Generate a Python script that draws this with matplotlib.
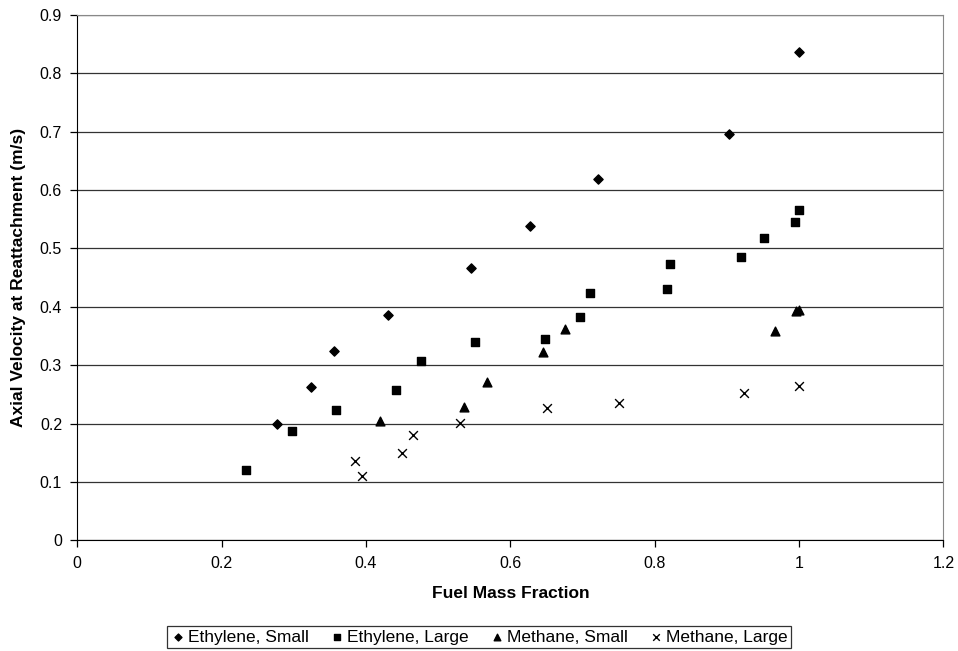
import matplotlib.pyplot as plt

plt.rcParams['font.family'] = ['Liberation Sans', 'DejaVu Sans']

# data
eth_small_x = [0.277, 0.324, 0.355, 0.431, 0.545, 0.627, 0.721, 0.903, 1.0]
eth_small_y = [0.199, 0.262, 0.325, 0.385, 0.467, 0.539, 0.619, 0.695, 0.837]

eth_large_x = [0.234, 0.297, 0.358, 0.441, 0.476, 0.551, 0.648, 0.697, 0.711,
               0.817, 0.821, 0.920, 0.952, 0.994, 1.0]
eth_large_y = [0.121, 0.187, 0.224, 0.257, 0.307, 0.339, 0.344, 0.382, 0.424,
               0.430, 0.473, 0.485, 0.518, 0.545, 0.566]

meth_small_x = [0.420, 0.536, 0.567, 0.645, 0.676, 0.967, 0.996, 1.0]
meth_small_y = [0.204, 0.229, 0.271, 0.322, 0.362, 0.359, 0.393, 0.395]

meth_large_x = [0.385, 0.395, 0.450, 0.465, 0.530, 0.651, 0.751, 0.924, 1.0]
meth_large_y = [0.135, 0.111, 0.150, 0.180, 0.201, 0.227, 0.236, 0.253, 0.265]

fig = plt.figure(figsize=(9.58, 6.51), dpi=100)
ax = fig.add_axes([0.0807, 0.170, 0.904, 0.8074])

ax.scatter(eth_small_x, eth_small_y, marker='D', s=22, color='black', label='Ethylene, Small', zorder=3)
ax.scatter(eth_large_x, eth_large_y, marker='s', s=40, color='black', label='Ethylene, Large', zorder=3)
ax.scatter(meth_small_x, meth_small_y, marker='^', s=40, color='black', label='Methane, Small', zorder=3)
ax.scatter(meth_large_x, meth_large_y, marker='x', s=40, color='black', linewidths=1.0,
           label='Methane, Large', zorder=3)

ax.set_xlim(0, 1.2)
ax.set_ylim(0, 0.9)
ax.set_xticks([0, 0.2, 0.4, 0.6, 0.8, 1.0, 1.2])
ax.set_xticklabels(['0', '0.2', '0.4', '0.6', '0.8', '1', '1.2'])
ax.set_yticks([i / 10 for i in range(10)])
ax.set_yticklabels(['0'] + ['%.1f' % (i / 10) for i in range(1, 10)])
ax.yaxis.grid(True, color='#333333', linewidth=0.9)
ax.set_axisbelow(True)

ax.tick_params(direction='out', length=5, width=0.9, labelsize=11.5, pad=6)
for side in ['left', 'bottom']:
    ax.spines[side].set_color('black')
for side in ['top', 'right']:
    ax.spines[side].set_color('#888888')

ax.set_xlabel('Fuel Mass Fraction', fontsize=12.5, fontweight='bold', labelpad=11)
ax.set_ylabel('Axial Velocity at Reattachment (m/s)', fontsize=12.5, fontweight='bold', labelpad=10)

leg = fig.legend(loc='center', bbox_to_anchor=(0.5, 0.0215), ncol=4, fontsize=12.5,
                 frameon=True, fancybox=False, edgecolor='black', handletextpad=0.1,
                 columnspacing=1.2, handlelength=0.9, borderpad=0.2, markerscale=0.75)
leg.get_frame().set_linewidth(0.9)

fig.savefig('out.png', dpi=100)
